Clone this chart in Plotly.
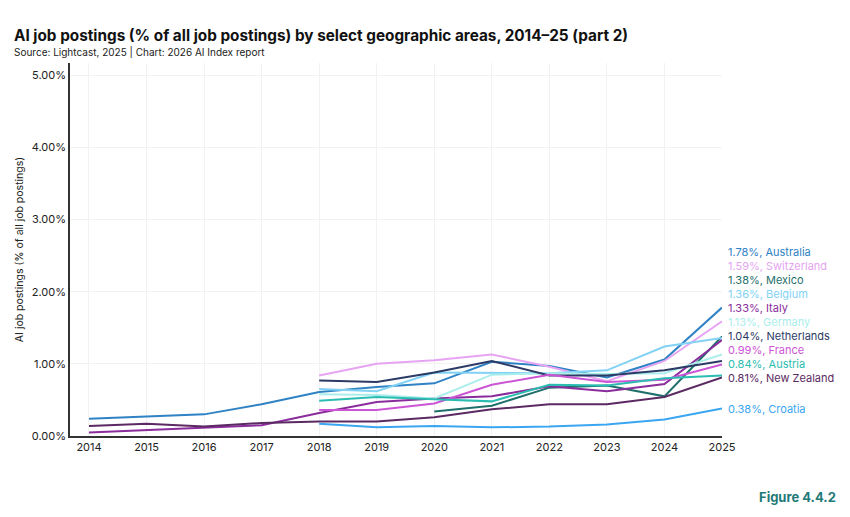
import plotly.graph_objects as go

years = list(range(2014, 2026))

countries = ["Australia", "Switzerland", "Mexico", "Belgium", "Italy", "Germany",
             "Netherlands", "France", "Austria", "New Zealand", "Croatia"]

australia   = [0.24, 0.27, 0.30, 0.44, 0.61, 0.68, 0.73, 1.03, 0.97, 0.81, 1.06, 1.78]
switzerland = [None, None, None, None, 0.84, 1.00, 1.05, 1.13, 0.96, 0.76, 1.04, 1.59]
mexico      = [None, None, None, None, None, None, 0.34, 0.42, 0.67, 0.70, 0.55, 1.38]
belgium     = [None, None, None, None, 0.65, 0.62, 0.88, 0.87, 0.87, 0.91, 1.24, 1.36]
italy       = [0.05, 0.08, 0.12, 0.15, 0.32, 0.47, 0.52, 0.55, 0.69, 0.62, 0.72, 1.33]
germany     = [None, None, None, None, 0.58, 0.57, 0.52, 0.85, 0.87, 0.86, 0.87, 1.13]
netherlands = [None, None, None, None, 0.77, 0.75, 0.88, 1.04, 0.84, 0.84, 0.91, 1.04]
france      = [None, None, None, None, 0.36, 0.36, 0.45, 0.71, 0.85, 0.75, 0.78, 0.99]
austria     = [None, None, None, None, 0.49, 0.54, 0.51, 0.48, 0.71, 0.70, 0.80, 0.84]
new_zealand = [0.14, 0.17, 0.13, 0.18, 0.20, 0.20, 0.26, 0.37, 0.44, 0.44, 0.54, 0.81]
croatia     = [None, None, None, None, 0.17, 0.12, 0.14, 0.12, 0.13, 0.16, 0.23, 0.38]

series = [australia, switzerland, mexico, belgium, italy, germany,
          netherlands, france, austria, new_zealand, croatia]

colors = ["#2f82c4", "#e6a4f2", "#1f6f6c", "#82d2f5", "#8a2c9b", "#aaeeec",
          "#2c3a66", "#cc55d6", "#2bbdb2", "#5b2a62", "#3aa6f2"]

y_ticks = [0, 1, 2, 3, 4, 5]
y_tick_labels = ["0.00%", "1.00%", "2.00%", "3.00%", "4.00%", "5.00%"]

FONT = "Inter"
W, H = 850, 517
L, R, T, B = 70, 128, 63, 81

fig = go.Figure()
for name, vals, col in zip(countries, series, colors):
    fig.add_trace(go.Scatter(x=years, y=vals, mode="lines", name=name,
                             line=dict(color=col, width=2), connectgaps=False,
                             showlegend=False))

# end labels with simple collision avoidance (stacked upward from the lowest)
last_vals = [s[-1] for s in series]
order = sorted(range(len(series)), key=lambda i: last_vals[i])
gap = 0.194
label_y = {}
prev = None
for i in order:
    y = last_vals[i]
    if prev is not None and y < prev + gap:
        y = prev + gap
    label_y[i] = y
    prev = y

for i in range(len(series)):
    fig.add_annotation(x=years[-1], y=label_y[i], xref="x", yref="y",
                       text=f"{last_vals[i]:.2f}%, {countries[i]}",
                       showarrow=False, xanchor="left", yanchor="middle",
                       xshift=4, font=dict(family=FONT, size=11, color=colors[i]))

pw = W - L - R
ph = H - T - B


def px_x(x):
    return (x - L) / pw


def px_y(y):
    return (H - B - y) / ph


fig.add_annotation(x=px_x(12), y=px_y(36), xref="paper", yref="paper",
                   text="<b>AI job postings (% of all job postings) by select geographic areas, 2014–25 (part 2)</b>",
                   showarrow=False, xanchor="left", yanchor="middle",
                   font=dict(family=FONT, size=15.3, color="#111"))
fig.add_annotation(x=px_x(12), y=px_y(52), xref="paper", yref="paper",
                   text="Source: Lightcast, 2025 | Chart: 2026 AI Index report",
                   showarrow=False, xanchor="left", yanchor="middle",
                   font=dict(family=FONT, size=10, color="#222"))
fig.add_annotation(x=px_x(838), y=px_y(497), xref="paper", yref="paper",
                   text="<b>Figure 4.4.2</b>", showarrow=False,
                   xanchor="right", yanchor="middle",
                   font=dict(family=FONT, size=13, color="#1f7a78"))

fig.update_layout(
    width=W, height=H,
    margin=dict(l=L, r=R, t=T, b=B),
    paper_bgcolor="white", plot_bgcolor="white",
    font=dict(family=FONT, color="#222"),
)

fig.update_xaxes(range=[2013.67, 2025], tickvals=years, ticktext=[str(y) for y in years],
                 showgrid=True, gridcolor="#f2f2f2", gridwidth=1,
                 showline=True, linecolor="#333", linewidth=1.5,
                 ticks="", tickfont=dict(family=FONT, size=11, color="#222"),
                 zeroline=False)
fig.update_yaxes(range=[0, 5.17], tickvals=y_ticks, ticktext=y_tick_labels,
                 showgrid=True, gridcolor="#f2f2f2", gridwidth=1,
                 showline=True, linecolor="#333", linewidth=1.5,
                 ticks="", tickfont=dict(family=FONT, size=11, color="#222"),
                 zeroline=False,
                 title=dict(text="AI job postings (% of all job postings)",
                            font=dict(family=FONT, size=10.5, color="#222"), standoff=6))

fig.write_html("out.html")
